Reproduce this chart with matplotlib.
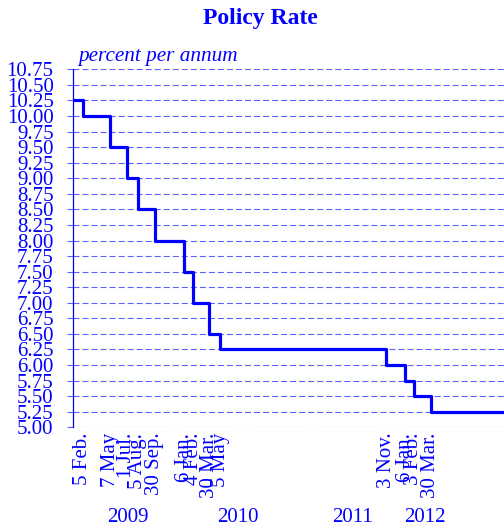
import matplotlib
matplotlib.use("Agg")
import matplotlib.pyplot as plt  # noqa: E402
import matplotlib.dates as mdates  # noqa: E402
import matplotlib.transforms as mtrans  # noqa: E402
import pandas as pd

plt.rcParams["font.family"] = ["Liberation Serif", "DejaVu Serif"]
plt.rcParams["lines.scale_dashes"] = False

BLUE = "#0000ff"
GRID = "#6060ff"

# policy rate decisions (rate in force from that date)
dec_dates = ["2009-01-04", "2009-02-05", "2009-05-07", "2009-07-01", "2009-08-05",
             "2009-09-30", "2010-01-06", "2010-02-04", "2010-03-30", "2010-05-05",
             "2011-11-03", "2012-01-06", "2012-02-03", "2012-03-30", "2012-11-26"]
rates = [10.25, 10.00, 9.50, 9.00, 8.50, 8.00, 7.50, 7.00, 6.50, 6.25,
         6.00, 5.75, 5.50, 5.25, 5.25]

tick_dates = dec_dates[1:-1]
tick_labels = ["5 Feb.", "7 May", "1 Jul.", "5 Aug.", "30 Sep.", "6 Jan.", "4 Feb.",
               "30 Mar.", "5 May", "3 Nov.", "6 Jan.", "3 Feb.", "30 Mar."]

years = ["2009", "2010", "2011", "2012"]
year_pos = ["2009-07-04", "2010-07-02", "2011-07-16", "2012-03-09"]

y_ticks = [5.00 + 0.25 * i for i in range(24)]

d = pd.to_datetime(dec_dates)

fig = plt.figure(figsize=(5.04, 5.32), dpi=100)
ax = fig.add_axes([73 / 504, 1 - 427.3 / 532, 1 - 73 / 504, (427.3 - 69.3) / 532])

for yv in y_ticks:
    ax.axhline(yv, color=GRID, lw=0.8, dashes=(4.3, 2.2), zorder=1)

ax.step(d, rates, where="post", color=BLUE, lw=2.3, zorder=3)

ax.set_xlim(d[0], d[-1])
ax.set_ylim(5.0, 10.75)
ax.set_yticks(y_ticks)
ax.set_yticklabels([f"{v:.2f}" for v in y_ticks])
ax.tick_params(axis="y", length=4.5, width=0.8, color=GRID, pad=9.5,
               labelsize=15, labelcolor=BLUE)

ax.set_xticks(pd.to_datetime(tick_dates))
ax.set_xticklabels(tick_labels, rotation=90)
ax.tick_params(axis="x", length=0, pad=4, labelsize=15, labelcolor=BLUE)

for s in ["top", "right", "bottom"]:
    ax.spines[s].set_visible(False)
ax.spines["left"].set_color("#0000dd")
ax.spines["left"].set_linewidth(0.9)

trans = mtrans.blended_transform_factory(ax.transData, fig.transFigure)
for yr, p in zip(years, year_pos):
    ax.text(mdates.date2num(pd.Timestamp(p)), 1 - 518 / 532, yr, transform=trans,
            ha="center", va="center", fontsize=15, color=BLUE)

fig.text(260.5 / 504, 1 - 24 / 532, "Policy Rate", ha="center", va="baseline",
         fontsize=17, fontweight="bold", color=BLUE)
fig.text(78 / 504, 1 - 61.5 / 532, "percent per annum", ha="left", va="baseline",
         fontsize=15.3, style="italic", color=BLUE)

fig.savefig("out.png", dpi=100)
